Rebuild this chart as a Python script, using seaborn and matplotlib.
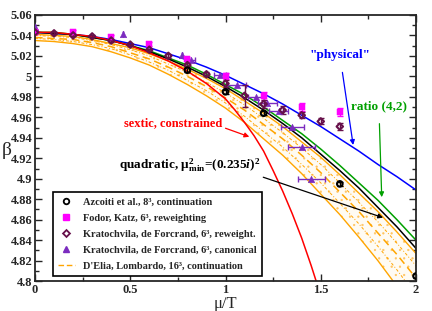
import numpy as np
import pandas as pd
import matplotlib
matplotlib.use("Agg")
import matplotlib.pyplot as plt
from matplotlib.lines import Line2D
from matplotlib.ticker import MultipleLocator, FormatStrFormatter
import seaborn as sns

# fit curves (mu/T grid)
mu = [0.0, 0.1, 0.2, 0.3, 0.4, 0.5, 0.6, 0.7, 0.8, 0.9, 1.0,
      1.1, 1.2, 1.3, 1.4, 1.5, 1.6, 1.7, 1.8, 1.9, 2.0]
beta_physical = [5.043, 5.042, 5.041, 5.039, 5.036, 5.032, 5.028, 5.022, 5.016, 5.009, 5.001,
                 4.992, 4.983, 4.973, 4.962, 4.951, 4.939, 4.927, 4.914, 4.902, 4.889]
beta_ratio42 = [5.043, 5.043, 5.041, 5.038, 5.035, 5.030, 5.025, 5.018, 5.011, 5.002, 4.992,
                4.982, 4.970, 4.957, 4.944, 4.929, 4.913, 4.896, 4.879, 4.860, 4.840]
beta_quadratic = [5.043, 5.042, 5.041, 5.038, 5.035, 5.030, 5.024, 5.017, 5.009, 5.000, 4.990,
                  4.979, 4.967, 4.954, 4.940, 4.924, 4.908, 4.891, 4.872, 4.853, 4.832]
band_top = [5.041, 5.040, 5.039, 5.036, 5.032, 5.028, 5.022, 5.015, 5.007, 4.998, 4.988,
            4.976, 4.964, 4.951, 4.936, 4.921, 4.904, 4.886, 4.868, 4.848, 4.827]
band_in_top = [5.040, 5.039, 5.038, 5.035, 5.031, 5.026, 5.020, 5.012, 5.004, 4.994, 4.984,
               4.972, 4.959, 4.945, 4.930, 4.914, 4.896, 4.877, 4.858, 4.837, 4.815]
band_mid = [5.038, 5.037, 5.036, 5.033, 5.029, 5.023, 5.017, 5.009, 5.000, 4.990, 4.979,
            4.967, 4.953, 4.939, 4.923, 4.906, 4.887, 4.868, 4.847, 4.826, 4.803]
band_in_bot = [5.037, 5.036, 5.034, 5.031, 5.027, 5.021, 5.014, 5.006, 4.996, 4.986, 4.974,
               4.961, 4.946, 4.931, 4.914, 4.896, 4.876, 4.856, 4.834, 4.811, 4.786]
band_bot = [5.035, 5.034, 5.032, 5.029, 5.024, 5.018, 5.011, 5.002, 4.992, 4.981, 4.969,
            4.955, 4.939, 4.923, 4.905, 4.885, 4.865, 4.843, 4.820, 4.795, 4.769]

mu_sextic = [0.0, 0.1, 0.2, 0.3, 0.4, 0.5, 0.6, 0.7, 0.8, 0.9, 1.0, 1.05, 1.1, 1.15,
             1.2, 1.25, 1.3, 1.35, 1.4, 1.45, 1.5]
beta_sextic = [5.043, 5.043, 5.041, 5.039, 5.035, 5.030, 5.023, 5.015, 5.005, 4.993, 4.978,
               4.967, 4.955, 4.942, 4.927, 4.908, 4.888, 4.866, 4.842, 4.815, 4.786]

# data points
azc_mu = [0.8, 1.0, 1.2, 1.6, 2.0]
azc_beta = [5.006, 4.985, 4.964, 4.895, 4.805]
azc_err = [0.002, 0.002, 0.002, 0.002, 0.002]

fk_mu = [0.0, 0.2, 0.4, 0.6, 0.8, 1.0, 1.2, 1.4, 1.6]
fk_beta = [5.043, 5.043, 5.038, 5.032, 5.017, 5.000, 4.981, 4.970, 4.965]
fk_err = [0.002, 0.002, 0.002, 0.002, 0.002, 0.003, 0.004, 0.004, 0.004]

kr_mu = [0.0, 0.1, 0.2, 0.3, 0.4, 0.5, 0.6, 0.7, 0.8, 0.9, 1.0, 1.1, 1.2, 1.3, 1.4, 1.5, 1.6]
kr_beta = [5.043, 5.042, 5.040, 5.039, 5.035, 5.031, 5.026, 5.020, 5.011, 5.002,
           4.993, 4.981, 4.973, 4.967, 4.962, 4.956, 4.951]
kr_err = [0.001, 0.001, 0.001, 0.001, 0.001, 0.001, 0.001, 0.002, 0.002, 0.002,
          0.003, 0.011, 0.004, 0.004, 0.003, 0.003, 0.003]

kc_mu = [0.0, 0.46, 0.77, 0.82, 0.97, 1.06, 1.16, 1.22, 1.28, 1.35, 1.40, 1.45]
kc_beta = [5.048, 5.041, 5.021, 5.016, 5.001, 4.992, 4.980, 4.974, 4.966, 4.951, 4.931, 4.900]
kc_xerr = [0.0, 0.0, 0.0, 0.02, 0.03, 0.05, 0.04, 0.05, 0.05, 0.06, 0.07, 0.07]

serif = "Liberation Serif"
sns.set_style("ticks")
plt.rcParams["font.family"] = [serif, "DejaVu Serif"]
plt.rcParams["mathtext.fontset"] = "custom"
plt.rcParams["mathtext.rm"] = serif + ":bold"
plt.rcParams["mathtext.it"] = serif + ":bold:italic"
plt.rcParams["mathtext.bf"] = serif + ":bold"
plt.rcParams["hatch.linewidth"] = 0.4

orange = "#ffa500"
magenta = "#ff00ff"
maroon = "#67104a"
violet = "#7b2cbf"
green = "#00a000"

fig = plt.figure(figsize=(4.32, 3.11), dpi=100)
ax = fig.add_axes([0.081, 0.096, 0.882, 0.856])

# D'Elia band
ax.fill(np.concatenate([mu, mu[::-1]]), np.concatenate([band_top, band_bot[::-1]]),
        facecolor="#fffbf3", edgecolor="#ffc460", hatch="..", linewidth=0)
curves = pd.DataFrame({"mu": mu, "top": band_top, "in_top": band_in_top, "mid": band_mid,
                       "in_bot": band_in_bot, "bot": band_bot, "physical": beta_physical,
                       "ratio": beta_ratio42, "quad": beta_quadratic})
sns.lineplot(data=curves, x="mu", y="top", color=orange, lw=1.0, ax=ax)
sns.lineplot(data=curves, x="mu", y="bot", color=orange, lw=1.0, ax=ax)
sns.lineplot(data=curves, x="mu", y="in_top", color=orange, lw=0.7, ax=ax).lines[-1].set_linestyle((0, (3, 2, 1, 2)))
sns.lineplot(data=curves, x="mu", y="in_bot", color=orange, lw=0.7, ax=ax).lines[-1].set_linestyle((0, (3, 2, 1, 2)))
sns.lineplot(data=curves, x="mu", y="mid", color=orange, lw=1.1, ax=ax).lines[-1].set_linestyle((0, (5, 3)))

sns.lineplot(data=curves, x="mu", y="physical", color="blue", lw=1.1, ax=ax)
sns.lineplot(data=curves, x="mu", y="ratio", color=green, lw=1.1, ax=ax)
sns.lineplot(data=curves, x="mu", y="quad", color="black", lw=1.1, ax=ax)
sns.lineplot(x=mu_sextic, y=beta_sextic, color="red", lw=1.1, ax=ax)

# data sets
ax.errorbar(kc_mu, kc_beta, xerr=kc_xerr, fmt="none", ecolor=violet, elinewidth=1, capsize=2)
sns.scatterplot(x=kc_mu, y=kc_beta, marker="^", color=violet, s=22, edgecolor=violet, ax=ax, zorder=5)

ax.errorbar(fk_mu, fk_beta, yerr=fk_err, fmt="none", ecolor=magenta, elinewidth=1, capsize=2)
sns.scatterplot(x=fk_mu, y=fk_beta, marker="s", color=magenta, s=20, edgecolor=magenta, ax=ax, zorder=5)

ax.errorbar(kr_mu, kr_beta, yerr=kr_err, fmt="none", ecolor=maroon, elinewidth=1, capsize=2)
sns.scatterplot(x=kr_mu, y=kr_beta, marker="D", facecolor="none", edgecolor=maroon, linewidth=1.5,
                s=11, ax=ax, zorder=6)

ax.errorbar(azc_mu, azc_beta, yerr=azc_err, fmt="none", ecolor="black", elinewidth=1, capsize=2)
sns.scatterplot(x=azc_mu, y=azc_beta, marker="o", facecolor="none", edgecolor="black", linewidth=1.5,
                s=16, ax=ax, zorder=6)

# annotations
tf = dict(family=serif, weight="bold", fontsize=9.5)
ax.annotate('"physical"', xy=(1.67, 4.933), xytext=(1.6, 5.021), color="blue", ha="center",
            va="center", arrowprops=dict(arrowstyle="-|>", color="blue", lw=0.9, shrinkA=6, shrinkB=0,
                                         mutation_scale=7), **tf)
ax.annotate("ratio (4,2)", xy=(1.82, 4.882), xytext=(1.805, 4.971), color=green, ha="center",
            va="center", arrowprops=dict(arrowstyle="-|>", color=green, lw=0.9, shrinkA=6, shrinkB=0,
                                         mutation_scale=7), **tf)
ax.annotate("sextic, constrained", xy=(1.125, 4.941), xytext=(0.725, 4.954), color="red", ha="center",
            va="center", fontsize=9, family=serif, weight="bold",
            arrowprops=dict(arrowstyle="-|>", color="red", lw=0.9, shrinkA=0, shrinkB=0,
                            mutation_scale=7, relpos=(1.0, 0.2)))
ax.annotate(r"quadratic, μ$^{2}_{\rm min}$=(0.235$i$)$^{2}$", xy=(1.827, 4.862), xytext=(0.81, 4.913),
            color="black", ha="center", va="center",
            arrowprops=dict(arrowstyle="-|>", color="black", lw=0.9, shrinkA=0, shrinkB=0,
                            mutation_scale=7, relpos=(0.93, 0.1)), **tf)

# legend
handles = [
    Line2D([], [], ls="none", marker="o", mfc="none", mec="black", mew=1.3, ms=4),
    Line2D([], [], ls="none", marker="s", mfc=magenta, mec=magenta, ms=4),
    Line2D([], [], ls="none", marker="D", mfc="none", mec=maroon, mew=1.3, ms=3.5),
    Line2D([], [], ls="none", marker="^", mfc=violet, mec=violet, ms=5),
    Line2D([], [], color=orange, ls=(0, (4, 2)), lw=1.0),
]
labels = [
    "Azcoiti et al., 8³, continuation",
    "Fodor, Katz, 6³, reweighting",
    "Kratochvila, de Forcrand, 6³, reweight.",
    "Kratochvila, de Forcrand, 6³, canonical",
    "D'Elia, Lombardo, 16³, continuation",
]
leg = ax.legend(handles, labels, loc="lower left", bbox_to_anchor=(0.047, 0.019), borderaxespad=0,
                prop=dict(family=serif, weight="bold", size=7.5), labelspacing=0.65, handlelength=1.6,
                handletextpad=0.8, borderpad=0.5, fancybox=False, framealpha=1)
leg.get_frame().set_edgecolor("black")
leg.get_frame().set_linewidth(1.2)

ax.set_xlim(0, 2)
ax.set_ylim(4.8, 5.06)
ax.xaxis.set_major_locator(MultipleLocator(0.5))
ax.xaxis.set_minor_locator(MultipleLocator(0.25))
ax.yaxis.set_major_locator(MultipleLocator(0.02))
ax.yaxis.set_minor_locator(MultipleLocator(0.01))
ax.xaxis.set_major_formatter(FormatStrFormatter("%g"))
ax.yaxis.set_major_formatter(FormatStrFormatter("%g"))
ax.tick_params(which="both", direction="in", top=True, right=True, width=1.0)
ax.tick_params(which="major", length=5, labelsize=9, pad=2)
ax.tick_params(which="minor", length=3)
for lab in ax.get_xticklabels() + ax.get_yticklabels():
    lab.set_fontweight("bold")
for sp in ax.spines.values():
    sp.set_linewidth(1.3)

ax.set_xlabel("μ/T", fontsize=12, va="top")
ax.xaxis.set_label_coords(0.5, -0.055)
ax.set_ylabel("β", fontsize=14, rotation=0, va="center", ha="center")
ax.yaxis.set_label_coords(-0.075, 0.49)

plt.savefig("out.png", dpi=100)
